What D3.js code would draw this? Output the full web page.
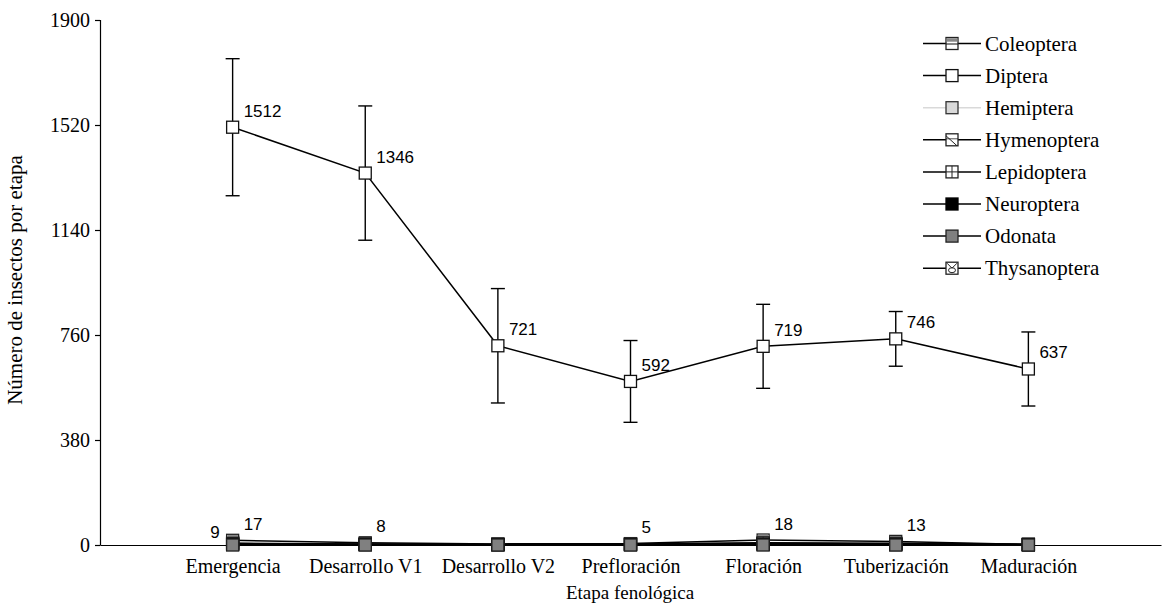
<!DOCTYPE html>
<html>
<head>
<meta charset="utf-8">
<script src="https://cdn.jsdelivr.net/npm/d3@7"></script>
<style>
  html, body { margin: 0; padding: 0; background: #fff; }
  svg { display: block; }
</style>
</head>
<body>
<svg id="chart" width="1165" height="606"></svg>
<script>
// Phenological stages
const stages = ["Emergencia", "Desarrollo V1", "Desarrollo V2", "Prefloración", "Floración", "Tuberización", "Maduración"];

// Insect counts per stage, by order
const coleoptera   = [17, 8, 4, 5, 18, 13, 2];
const diptera      = [1512, 1346, 721, 592, 719, 746, 637];
const hemiptera    = [9, 3, 2, 3, 5, 4, 1];
const hymenoptera  = [6, 4, 2, 3, 6, 4, 2];
const lepidoptera  = [5, 3, 2, 4, 8, 6, 3];
const neuroptera   = [2, 1, 1, 1, 2, 1, 1];
const odonata      = [0, 0, 0, 0, 0, 0, 0];
const thysanoptera = [3, 2, 1, 2, 4, 3, 1];

// Error (± deviation) for Diptera
const dipteraErr = [248, 243, 207, 148, 152, 99, 134];

const yTicks = [0, 380, 760, 1140, 1520, 1900];

const seriesNames = ["Coleoptera", "Diptera", "Hemiptera", "Hymenoptera", "Lepidoptera", "Neuroptera", "Odonata", "Thysanoptera"];
const seriesValues = [coleoptera, diptera, hemiptera, hymenoptera, lepidoptera, neuroptera, odonata, thysanoptera];

// Points that carry a value label: [series, stage index, side]
const labelled = [
  ["Diptera", 0, "right"], ["Diptera", 1, "right"], ["Diptera", 2, "right"], ["Diptera", 3, "right"],
  ["Diptera", 4, "right"], ["Diptera", 5, "right"], ["Diptera", 6, "right"],
  ["Coleoptera", 0, "right"], ["Coleoptera", 1, "right"], ["Coleoptera", 3, "right"],
  ["Coleoptera", 4, "right"], ["Coleoptera", 5, "right"],
  ["Hemiptera", 0, "left"]
];

const svg = d3.select("#chart");
const serif = "'Liberation Serif', 'Times New Roman', serif";
const sans = "'Liberation Sans', Arial, sans-serif";

const x = d3.scalePoint().domain(stages).range([100, 1161]).padding(1);
const y = d3.scaleLinear().domain([0, 1900]).range([545, 20]);

// Marker appearance for each order
const markerStyle = {
  Coleoptera:   { fill: "#fff", stroke: "#222", extra: "coleo" },
  Diptera:      { fill: "#fff", stroke: "#111", extra: null },
  Hemiptera:    { fill: "#d9d9d9", stroke: "#333", extra: null },
  Hymenoptera:  { fill: "#fff", stroke: "#222", extra: "diag" },
  Lepidoptera:  { fill: "#fff", stroke: "#222", extra: "cross" },
  Neuroptera:   { fill: "#000", stroke: "#000", extra: null },
  Odonata:      { fill: "#808080", stroke: "#222", extra: null },
  Thysanoptera: { fill: "#fff", stroke: "#222", extra: "thys" }
};
const lineColor = name => name === "Hemiptera" ? "#d9d9d9" : "#000";

function drawMarker(g, name, cx, cy) {
  const s = 12, h = s / 2;
  const st = markerStyle[name];
  const m = g.append("g").attr("transform", `translate(${cx},${cy})`);
  m.append("rect").attr("x", -h).attr("y", -h).attr("width", s).attr("height", s)
    .attr("fill", st.fill).attr("stroke", st.stroke).attr("stroke-width", 1.3);
  if (st.extra === "coleo") {
    m.append("rect").attr("x", -h + 0.7).attr("y", -h + 0.7).attr("width", s - 1.4).attr("height", 3.5).attr("fill", "#888");
    m.append("line").attr("x1", -h).attr("x2", h).attr("y1", 0.5).attr("y2", 0.5).attr("stroke", "#222").attr("stroke-width", 1.1);
  } else if (st.extra === "diag") {
    m.append("line").attr("x1", -h).attr("y1", -h + 2).attr("x2", h - 1).attr("y2", h).attr("stroke", "#222").attr("stroke-width", 1);
    m.append("line").attr("x1", -h).attr("y1", -1).attr("x2", h).attr("y2", -1).attr("stroke", "#222").attr("stroke-width", 0.8);
  } else if (st.extra === "cross") {
    m.append("line").attr("x1", -h).attr("x2", h).attr("y1", 0).attr("y2", 0).attr("stroke", "#222").attr("stroke-width", 1);
    m.append("line").attr("y1", -h).attr("y2", h).attr("x1", 0).attr("x2", 0).attr("stroke", "#222").attr("stroke-width", 1);
  } else if (st.extra === "thys") {
    m.append("ellipse").attr("cx", 0).attr("cy", 2).attr("rx", 3.5).attr("ry", 2.5).attr("fill", "none").attr("stroke", "#222").attr("stroke-width", 1);
    m.append("line").attr("x1", -h + 1).attr("y1", -h + 1).attr("x2", 0).attr("y2", 0).attr("stroke", "#222").attr("stroke-width", 1);
    m.append("line").attr("x1", h - 1).attr("y1", -h + 1).attr("x2", 0).attr("y2", 0).attr("stroke", "#222").attr("stroke-width", 1);
  }
}

// Axes
const yAxis = d3.axisLeft(y).tickValues(yTicks).tickSize(5).tickPadding(5).tickFormat(d3.format("d"));
const gy = svg.append("g").attr("transform", "translate(100,0)").call(yAxis);
gy.select(".domain").attr("stroke", "#000").attr("stroke-width", 1.2).attr("d", "M-5,20.5H0.5V545.5");
gy.selectAll(".tick line").attr("stroke", "#000").attr("stroke-width", 1.2);
gy.selectAll(".tick text").attr("font-family", serif).attr("font-size", 20).attr("fill", "#000");

const xAxis = d3.axisBottom(x).tickSize(0).tickPadding(14);
const gx = svg.append("g").attr("transform", "translate(0,545)").call(xAxis);
gx.select(".domain").attr("stroke", "#000").attr("stroke-width", 1.2);
gx.selectAll(".tick text").attr("font-family", serif).attr("font-size", 20).attr("fill", "#000");

// Axis titles
svg.append("text").attr("transform", "translate(22,280) rotate(-90)")
  .attr("text-anchor", "middle").attr("font-family", serif).attr("font-size", 21)
  .text("Número de insectos por etapa");
svg.append("text").attr("x", 630).attr("y", 599)
  .attr("text-anchor", "middle").attr("font-family", serif).attr("font-size", 19)
  .text("Etapa fenológica");

const plot = svg.append("g");

// Diptera error bars
const eb = plot.append("g").attr("stroke", "#000").attr("stroke-width", 1.4);
diptera.forEach((v, i) => {
  const cx = x(stages[i]);
  const top = y(v + dipteraErr[i]), bot = y(v - dipteraErr[i]);
  eb.append("line").attr("x1", cx).attr("x2", cx).attr("y1", top).attr("y2", bot);
  eb.append("line").attr("x1", cx - 7).attr("x2", cx + 7).attr("y1", top).attr("y2", top);
  eb.append("line").attr("x1", cx - 7).attr("x2", cx + 7).attr("y1", bot).attr("y2", bot);
});

// Drawing order of the series (later ones sit on top)
const order = ["Diptera", "Hemiptera", "Coleoptera", "Hymenoptera", "Lepidoptera", "Thysanoptera", "Neuroptera", "Odonata"]
  .map(n => seriesNames.indexOf(n));

const line = d3.line().x((d, i) => x(stages[i])).y(d => y(d));
order.forEach(k => {
  plot.append("path").datum(seriesValues[k])
    .attr("d", line).attr("fill", "none")
    .attr("stroke", lineColor(seriesNames[k])).attr("stroke-width", 1.5);
});
order.forEach(k => {
  seriesValues[k].forEach((v, i) => drawMarker(plot, seriesNames[k], x(stages[i]), y(v)));
});

// Value labels
labelled.forEach(([name, i, side]) => {
  const v = seriesValues[seriesNames.indexOf(name)][i];
  const cx = x(stages[i]), cy = y(v);
  const t = plot.append("text").attr("font-family", sans).attr("font-size", 17).attr("fill", "#000")
    .attr("dominant-baseline", "central").text(v);
  if (side === "right") {
    t.attr("x", cx + 11).attr("y", cy - 16).attr("text-anchor", "start");
  } else {
    t.attr("x", cx - 13).attr("y", cy - 10).attr("text-anchor", "end");
  }
});

// Legend
const legend = svg.append("g");
seriesNames.forEach((name, k) => {
  const ly = 43.5 + k * 32.1;
  legend.append("line").attr("x1", 923).attr("x2", 981).attr("y1", ly).attr("y2", ly)
    .attr("stroke", lineColor(name)).attr("stroke-width", 1.5);
  drawMarker(legend, name, 952, ly);
  legend.append("text").attr("x", 985).attr("y", ly).attr("dominant-baseline", "central")
    .attr("font-family", serif).attr("font-size", 21).text(name);
});
</script>
</body>
</html>
